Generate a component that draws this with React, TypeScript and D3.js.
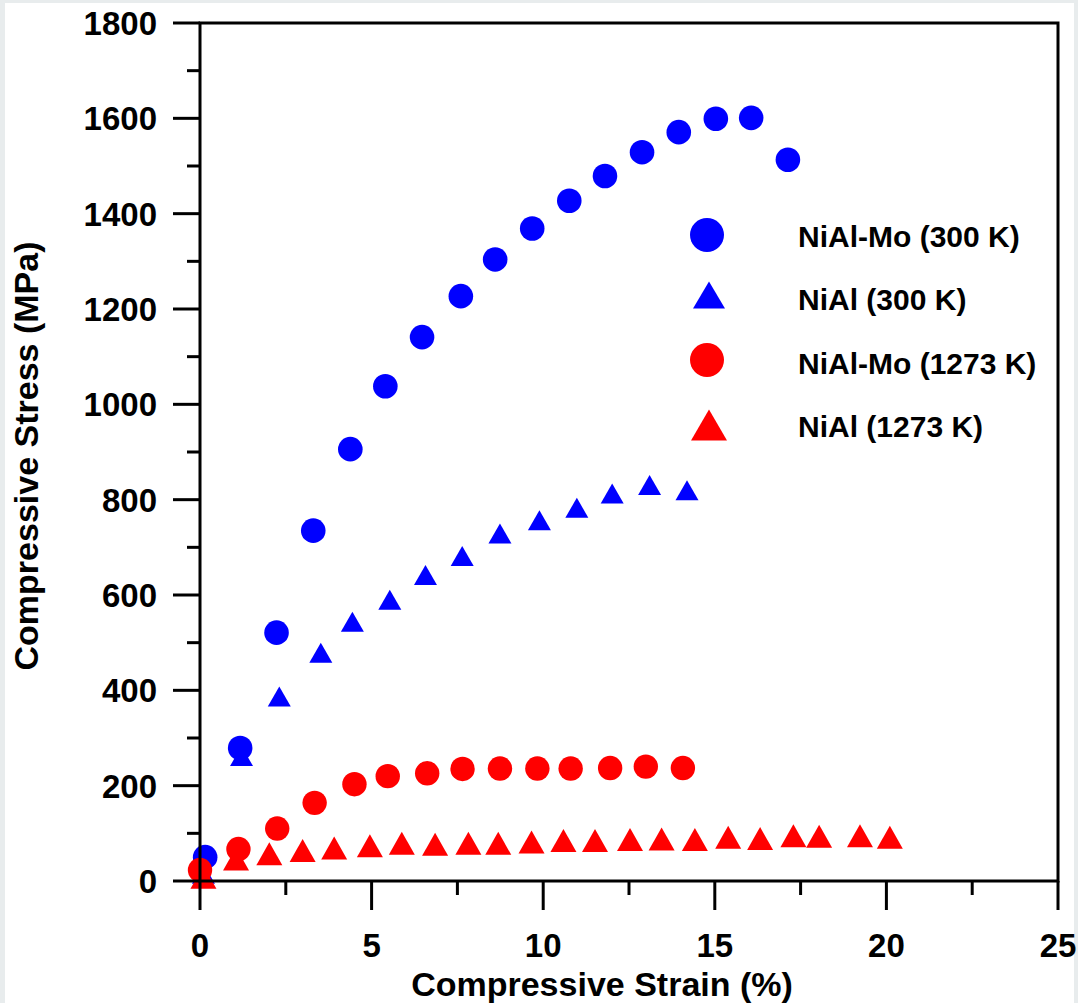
import React, { useRef, useEffect } from 'react';
import * as d3 from 'd3';

// NiAl-Mo at 300 K (circles, blue)
const moRoomX = [0.15, 1.17, 2.23, 3.30, 4.38, 5.40, 6.47, 7.60, 8.60, 9.68, 10.76, 11.80, 12.88, 13.95, 15.03, 16.06, 17.13];
const moRoomY = [50, 279, 521, 735, 906, 1038, 1141, 1227, 1304, 1369, 1427, 1479, 1529, 1571, 1599, 1601, 1513];

// NiAl at 300 K (triangles, blue)
const niRoomX = [0.1, 1.21, 2.31, 3.52, 4.44, 5.53, 6.57, 7.64, 8.74, 9.89, 10.98, 12.01, 13.10, 14.19];
const niRoomY = [15, 262, 387, 479, 544, 590, 642, 682, 729, 757, 783, 813, 831, 820];

// NiAl-Mo at 1273 K (circles, red)
const moHotX = [0.0, 1.12, 2.25, 3.34, 4.50, 5.47, 6.62, 7.65, 8.74, 9.83, 10.80, 11.95, 12.99, 14.07];
const moHotY = [23, 67, 110, 164, 203, 220, 226, 235, 236, 236, 236, 237, 240, 237];

// NiAl at 1273 K (triangles, red)
const niHotX = [0.1, 1.05, 2.02, 2.99, 3.91, 4.95, 5.88, 6.85, 7.82, 8.69, 9.66, 10.59, 11.51, 12.53, 13.45, 14.42, 15.39, 16.32, 17.29, 18.04, 19.23, 20.10];
const niHotY = [8, 46, 57, 64, 69, 74, 79, 77, 79, 79, 82, 85, 85, 87, 88, 87, 92, 89, 95, 94, 95, 92];

const xTicks = [0, 5, 10, 15, 20, 25];
const yTicks = [0, 200, 400, 600, 800, 1000, 1200, 1400, 1600, 1800];

const legendLabels = ['NiAl-Mo (300 K)', 'NiAl (300 K)', 'NiAl-Mo (1273 K)', 'NiAl (1273 K)'];

function triPath(cx, cy, w, h) {
    return `M${cx - w / 2},${cy + h / 2}L${cx + w / 2},${cy + h / 2}L${cx},${cy - h / 2}Z`;
}

function StressStrainChart() {
    const ref = useRef();

    useEffect(() => {
        const width = 1078;
        const height = 1003;
        const left = 200, right = 1058, top = 23, bottom = 881;
        const font = "'Liberation Sans', Arial, sans-serif";

        const svg = d3.select(ref.current)
            .attr("width", width)
            .attr("height", height);
        svg.selectAll("*").remove();

        svg.append("rect").attr("width", width).attr("height", height).attr("fill", "#e8eced");
        svg.append("rect").attr("x", 5).attr("y", 3).attr("width", 1069).attr("height", 1000).attr("fill", "#fff");

        const x = d3.scaleLinear().domain([0, 25]).range([left, right]);
        const y = d3.scaleLinear().domain([0, 1800]).range([bottom, top]);

        const zip = (xs, ys) => xs.map((v, i) => ({ x: v, y: ys[i] }));

        // data marks
        svg.append("g").selectAll("path")
            .data(zip(niRoomX, niRoomY))
            .enter().append("path")
            .attr("d", d => triPath(x(d.x), y(d.y), 23, 20))
            .attr("fill", "#0000ff");

        svg.append("g").selectAll("circle")
            .data(zip(moRoomX, moRoomY))
            .enter().append("circle")
            .attr("cx", d => x(d.x))
            .attr("cy", d => y(d.y))
            .attr("r", 12.3)
            .attr("fill", "#0000ff");

        svg.append("g").selectAll("circle")
            .data(zip(moHotX, moHotY))
            .enter().append("circle")
            .attr("cx", d => x(d.x))
            .attr("cy", d => y(d.y))
            .attr("r", 12.2)
            .attr("fill", "#ff0000");

        svg.append("g").selectAll("path")
            .data(zip(niHotX, niHotY))
            .enter().append("path")
            .attr("d", d => triPath(x(d.x), y(d.y), 26, 23))
            .attr("fill", "#ff0000");

        // frame
        svg.append("rect")
            .attr("x", left).attr("y", top)
            .attr("width", right - left).attr("height", bottom - top)
            .attr("fill", "none").attr("stroke", "#000").attr("stroke-width", 3);

        // y axis ticks
        const yMinor = d3.range(0, 1801, 100);
        svg.append("g").selectAll("line")
            .data(yMinor)
            .enter().append("line")
            .attr("x1", d => (d % 200 === 0 ? left - 27 : left - 13))
            .attr("x2", left)
            .attr("y1", d => y(d)).attr("y2", d => y(d))
            .attr("stroke", "#000").attr("stroke-width", 3);

        svg.append("g").selectAll("text")
            .data(yTicks)
            .enter().append("text")
            .attr("x", 157)
            .attr("y", d => y(d) + 12)
            .attr("text-anchor", "end")
            .style("font-family", font)
            .style("font-weight", "bold")
            .style("font-size", "33px")
            .text(d => d);

        // x axis ticks
        const xMinor = d3.range(0, 25.01, 2.5);
        svg.append("g").selectAll("line")
            .data(xMinor)
            .enter().append("line")
            .attr("x1", d => x(d)).attr("x2", d => x(d))
            .attr("y1", bottom)
            .attr("y2", d => (d % 5 === 0 ? bottom + 29 : bottom + 14))
            .attr("stroke", "#000").attr("stroke-width", 3);

        svg.append("g").selectAll("text")
            .data(xTicks)
            .enter().append("text")
            .attr("x", d => x(d))
            .attr("y", 957)
            .attr("text-anchor", "middle")
            .style("font-family", font)
            .style("font-weight", "bold")
            .style("font-size", "33px")
            .text(d => d);

        svg.append("text")
            .attr("x", 602)
            .attr("y", 996)
            .attr("text-anchor", "middle")
            .style("font-family", font)
            .style("font-weight", "bold")
            .style("font-size", "34px")
            .text("Compressive Strain (%)");

        svg.append("text")
            .attr("transform", "translate(38,456) rotate(-90)")
            .attr("text-anchor", "middle")
            .style("font-family", font)
            .style("font-weight", "bold")
            .style("font-size", "34px")
            .text("Compressive Stress (MPa)");

        // legend
        const lg = svg.append("g");
        const rowY = [235, 295, 360, 425];
        lg.append("circle").attr("cx", 707).attr("cy", rowY[0]).attr("r", 17).attr("fill", "#0000ff");
        lg.append("path").attr("d", triPath(709, rowY[1], 32, 27)).attr("fill", "#0000ff");
        lg.append("circle").attr("cx", 707).attr("cy", rowY[2]).attr("r", 17).attr("fill", "#ff0000");
        lg.append("path").attr("d", triPath(709, rowY[3], 36, 31)).attr("fill", "#ff0000");

        lg.selectAll("text")
            .data(legendLabels)
            .enter().append("text")
            .attr("x", 798)
            .attr("y", (d, i) => 247 + i * 63.3)
            .style("font-family", font)
            .style("font-weight", "bold")
            .style("font-size", "30px")
            .text(d => d);
    }, []);

    return <svg ref={ref} style={{ position: 'absolute', left: 0, top: 0 }} />;
}

export default function App() {
    return <StressStrainChart />;
}
